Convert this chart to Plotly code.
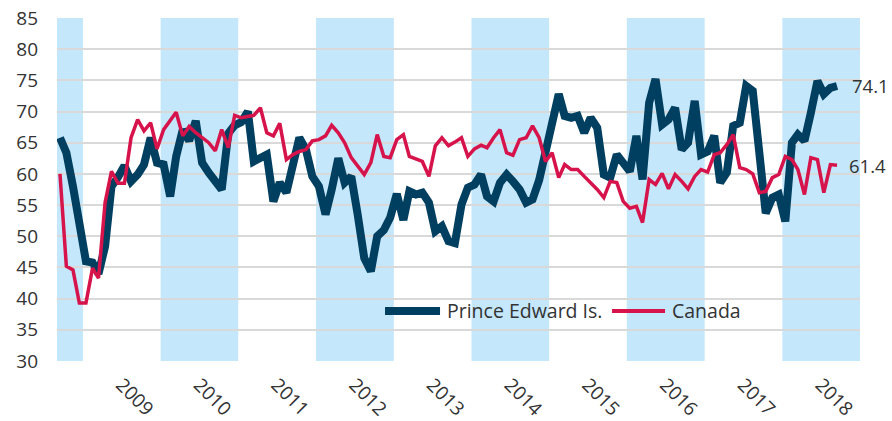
import plotly.graph_objects as go
import pandas as pd

# Monthly data, Sep 2008 - Sep 2018
start_month = "2008-09-01"
n_months = 121

pei = [65.8, 63.4, 58.0, 51.8, 46.0, 45.8, 44.0, 48.4, 58.0, 59.5,
       61.3, 58.8, 59.9, 61.5, 65.8, 61.8, 61.5, 56.4, 62.8, 67.1,
       65.3, 68.5, 61.8, 60.2, 58.8, 57.5, 66.5, 67.8, 68.3, 70.0,
       62.0, 62.6, 63.1, 55.6, 58.6, 57.0, 61.5, 65.8, 63.9, 59.6,
       58.0, 53.5, 57.5, 62.5, 58.6, 59.6, 53.5, 46.5, 44.4, 50.0,
       51.0, 53.0, 56.8, 52.6, 57.2, 56.7, 57.0, 55.4, 50.8, 51.6,
       49.2, 48.9, 55.1, 57.8, 58.3, 59.9, 56.4, 55.6, 58.6, 59.9,
       58.8, 57.5, 55.4, 55.9, 59.0, 63.8, 68.6, 72.8, 69.3, 69.0,
       69.3, 66.6, 69.0, 67.4, 59.9, 59.4, 63.1, 61.5, 60.4, 66.1,
       59.1, 71.4, 75.2, 67.9, 68.7, 70.6, 63.9, 65.0, 71.7, 63.1,
       63.6, 66.1, 58.6, 60.2, 67.7, 68.2, 74.1, 73.3, 64.0, 53.7,
       56.2, 56.7, 52.4, 65.0, 66.3, 65.3, 69.8, 74.9, 72.8, 73.8,
       74.1]

canada = [60.0, 45.2, 44.6, 39.3, 39.3, 44.9, 43.3, 55.4, 60.4, 58.5,
          58.5, 65.8, 68.7, 66.9, 68.2, 64.0, 67.1, 68.7, 69.9, 66.1,
          67.6, 66.6, 65.8, 65.0, 63.7, 67.1, 64.2, 69.4, 69.0, 69.2,
          69.4, 70.6, 66.6, 66.1, 68.1, 62.3, 63.1, 63.6, 63.9, 65.3,
          65.5, 66.1, 67.8, 66.6, 65.0, 62.6, 61.2, 59.9, 61.8, 66.3,
          62.8, 62.6, 65.5, 66.3, 62.8, 62.4, 62.0, 59.6, 64.5, 65.8,
          64.5, 65.1, 65.8, 62.8, 64.0, 64.6, 64.2, 65.8, 67.1, 63.4,
          63.0, 65.5, 65.8, 67.7, 65.8, 62.0, 63.4, 59.4, 61.5, 60.7,
          60.7, 59.6, 58.6, 57.5, 56.2, 58.8, 58.6, 55.6, 54.5, 54.8,
          52.2, 59.1, 58.3, 60.1, 57.6, 59.9, 58.8, 57.6, 59.6, 60.7,
          60.3, 63.1, 63.4, 64.7, 66.3, 61.0, 60.7, 60.0, 57.0, 57.2,
          59.4, 59.9, 62.8, 62.3, 60.7, 56.7, 62.6, 62.3, 57.0, 61.5,
          61.4]

tick_years = [2009, 2010, 2011, 2012, 2013, 2014, 2015, 2016, 2017, 2018]
shaded_years = [2008, 2010, 2012, 2014, 2016, 2018]
y_ticks = [30, 35, 40, 45, 50, 55, 60, 65, 70, 75, 80, 85]
series_names = ["Prince Edward Is.", "Canada"]

dates = pd.date_range(start_month, periods=n_months, freq="MS") + pd.Timedelta(days=14)
x_start = start_month
x_end = "2019-01-01"

BLUE = "#013f60"
RED = "#d6134a"
BAND = "#c4e7fb"
TEXT = "#333333"
FONT = "Open Sans"

fig = go.Figure()
fig.add_trace(go.Scatter(x=dates, y=pei, mode="lines", name=series_names[0],
                         line=dict(color=BLUE, width=8), showlegend=False))
fig.add_trace(go.Scatter(x=dates, y=canada, mode="lines", name=series_names[1],
                         line=dict(color=RED, width=3.5), showlegend=False))

shapes = []
for yr in shaded_years:
    x0 = max(pd.Timestamp(f"{yr}-01-01"), pd.Timestamp(x_start))
    x1 = pd.Timestamp(f"{yr + 1}-01-01")
    shapes.append(dict(type="rect", xref="x", yref="paper", x0=x0, x1=x1, y0=0, y1=1,
                       fillcolor=BAND, line=dict(width=0), layer="between"))

# custom legend (line samples + labels), inside the plot area
legend_y = 0.146
legend_items = [
    (series_names[0], BLUE, 8, 0.4085, 0.477, 0.4832),
    (series_names[1], RED, 4, 0.6912, 0.7572, 0.7634),
]
annotations = []
for name, col, w, lx0, lx1, tx in legend_items:
    shapes.append(dict(type="line", xref="paper", yref="paper", x0=lx0, x1=lx1,
                       y0=legend_y, y1=legend_y, line=dict(color=col, width=w), layer="above"))
    annotations.append(dict(xref="paper", yref="paper", x=tx, y=legend_y, text=name,
                            showarrow=False, xanchor="left", yanchor="middle",
                            font=dict(size=19.5, color=TEXT, family=FONT)))

annotations += [
    dict(x=dates[-1], y=pei[-1], text=f"{pei[-1]:.1f}", showarrow=False,
         xanchor="left", yanchor="middle", xshift=13, font=dict(size=18.5, color=TEXT, family=FONT)),
    dict(x=dates[-1], y=canada[-1], text=f"{canada[-1]:.1f}", showarrow=False,
         xanchor="left", yanchor="middle", xshift=10, font=dict(size=18.5, color=TEXT, family=FONT)),
]

fig.update_layout(
    width=892, height=421,
    margin=dict(l=57, r=32, t=18, b=60, autoexpand=False),
    paper_bgcolor="white", plot_bgcolor="white",
    font=dict(family=FONT, size=19, color=TEXT),
    shapes=shapes,
    annotations=annotations,
    showlegend=False,
    xaxis=dict(range=[x_start, x_end], showgrid=False, zeroline=False, showline=False,
               tickvals=[f"{y}-07-01" for y in tick_years],
               ticktext=[str(y) for y in tick_years],
               tickangle=45, ticks="", automargin=False, ticklabelstandoff=8,
               ticklabeloverflow="allow",
               tickfont=dict(size=19, color=TEXT)),
    yaxis=dict(range=[30, 85], tickvals=y_ticks, showgrid=True, gridcolor="#d9d9d9",
               gridwidth=1.5, zeroline=False, showline=False, ticks="", automargin=False,
               ticklabelstandoff=18, ticklabeloverflow="allow",
               tickfont=dict(size=19, color=TEXT)),
)

# remove the browser's default page margin so the figure fills the window exactly
fig.write_html("out.html", config={"displayModeBar": False},
               post_script="document.body.style.margin='0px';")
